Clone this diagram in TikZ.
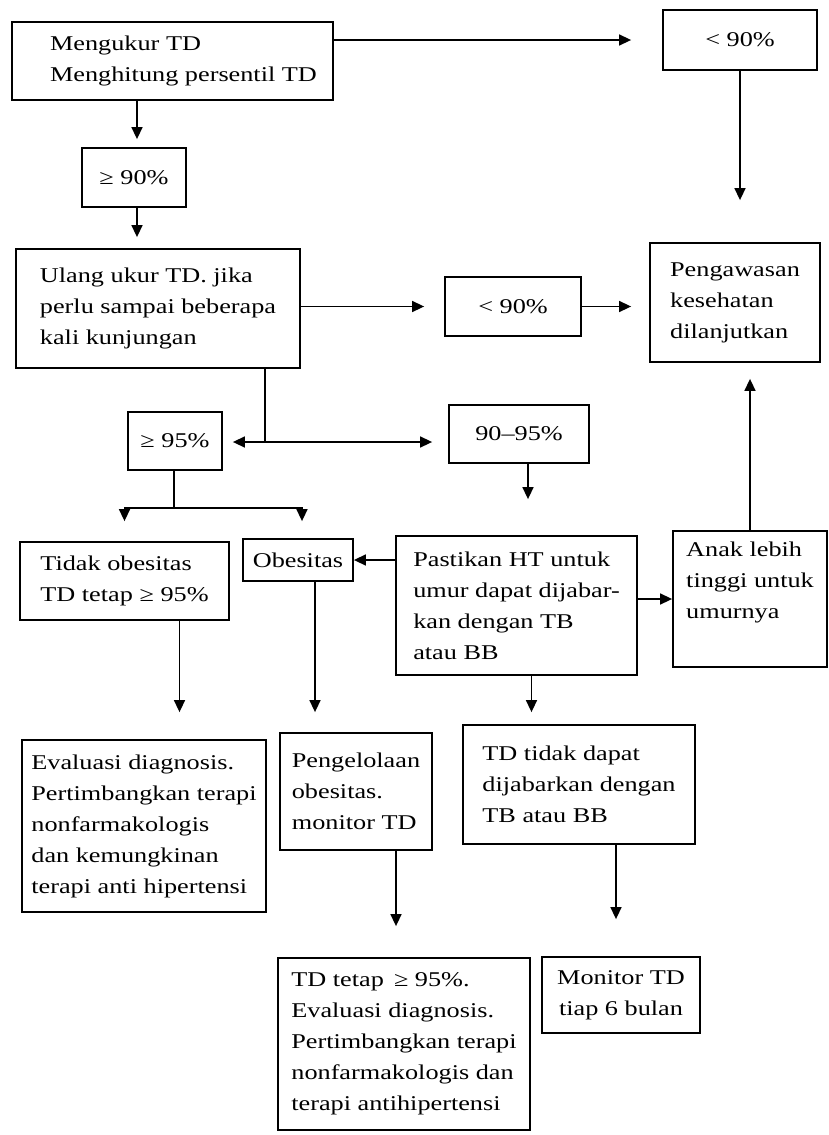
\documentclass[tikz,border=0pt]{standalone}
\usepackage{fontspec}
\setmainfont[FakeStretch=1.25]{Liberation Serif}
\usetikzlibrary{arrows.meta}
\begin{document}
\begin{tikzpicture}[x=1pt,y=-1pt,
  box/.style={draw, line width=1.8pt, inner sep=0pt, align=left,
    font=\fontsize{21}{31}\selectfont},
  arr/.style={line width=1.5pt, -{Triangle[length=12pt,width=11pt]}},
  ln/.style={line width=1.5pt}]
\useasboundingbox (0,0) rectangle (829,1135);
\fill[white] (0,0) rectangle (829,1135);

\node[box, minimum width=321pt, minimum height=78pt] (mengukur) at (172.5,61) {\hspace*{22pt}Mengukur TD\\\hspace*{22pt}Menghitung persentil TD};
\node[box, minimum width=154pt, minimum height=60pt] (top90) at (740,40) {< 90\%};
\node[box, minimum width=104pt, minimum height=59pt] (ge90) at (134,177.5) {≥ 90\%};
\node[box, minimum width=284pt, minimum height=119pt] (ulang) at (158,308.5) {Ulang ukur TD. jika\\perlu sampai beberapa\\kali kunjungan};
\node[box, minimum width=136pt, minimum height=59pt] (mid90) at (513,306.5) {< 90\%};
\node[box, minimum width=170pt, minimum height=119pt] (pengawasan) at (735,302.5) {Pengawasan\\kesehatan\\dilanjutkan};
\node[box, minimum width=94pt, minimum height=58pt] (ge95) at (175,441) {≥ 95\%};
\node[box, minimum width=140pt, minimum height=58pt] (r9095) at (519,434) {90–95\%};
\node[box, minimum width=209pt, minimum height=78pt] (tidak) at (124.5,581) {Tidak obesitas\\TD tetap ≥ 95\%};
\node[box, minimum width=110pt, minimum height=42pt] (obesitas) at (298,560) {Obesitas};
\node[box, minimum width=241pt, minimum height=139pt] (pastikan) at (516.5,605.5) {Pastikan HT untuk\\umur dapat dijabar-\\kan dengan TB\\atau BB};
\node[box, minimum width=154pt, minimum height=136pt] (anak) at (750,599) {Anak lebih\\tinggi untuk\\umurnya\\[6pt]};
\node[box, minimum width=244pt, minimum height=172pt] (evaluasi) at (144,826) {Evaluasi diagnosis.\\Pertimbangkan terapi\\nonfarmakologis\\dan kemungkinan\\terapi anti hipertensi};
\node[box, minimum width=152pt, minimum height=117pt] (pengelolaan) at (356,791.5) {Pengelolaan\\obesitas.\\monitor TD};
\node[box, minimum width=232pt, minimum height=119pt] (tdtidak) at (579,784.5) {TD tidak dapat\\dijabarkan dengan\\TB atau BB};
\node[box, minimum width=252pt, minimum height=172pt] (tdtetap) at (404,1044) {TD tetap \,≥ 95\%.\\Evaluasi diagnosis.\\Pertimbangkan terapi\\nonfarmakologis dan\\terapi antihipertensi};
\node[box, align=center, minimum width=158pt, minimum height=76pt] (monitor) at (621,995) {Monitor TD\\tiap 6 bulan};

% connectors
\draw[arr, shorten >=31pt] (mengukur.east |- top90.west) -- (top90.west);
\draw[arr, shorten >=42pt] (top90.south) -- (top90.south |- pengawasan.north);
\coordinate (c1) at ([xshift=3pt]ge90.north);
\draw[arr, shorten >=8pt] (c1 |- mengukur.south) -- (c1);
\coordinate (c2) at ([xshift=3pt]ge90.south);
\draw[arr, shorten >=11pt] (c2) -- (c2 |- ulang.north);
\draw[arr, shorten >=20pt] (ulang.east |- mid90.west) -- (mid90.west);
\draw[arr, shorten >=18pt] (mid90.east) -- (mid90.east -| pengawasan.west);

\coordinate (j1) at (265,442);
\draw[ln] (j1 |- ulang.south) -- (j1);
\draw[arr, shorten >=10pt] (j1) -- (j1 -| ge95.east);
\draw[arr, shorten >=16pt] (j1) -- (j1 -| r9095.west);

\coordinate (j2) at (174,508);
\draw[ln] (j2 |- ge95.south) -- (j2);
\draw[arr, shorten >=20pt] (j2) -| (tidak.north);
\coordinate (c3) at ([xshift=4pt]obesitas.north);
\draw[arr, shorten >=17pt] (j2) -| (c3);

\coordinate (c4) at ([xshift=9pt]r9095.south);
\draw[arr, shorten >=36pt] (c4) -- (c4 |- pastikan.north);
\draw[arr] (pastikan.west |- obesitas.east) -- (obesitas.east);
\draw[arr] (pastikan.east |- anak.west) -- (anak.west);
\draw[arr, shorten >=16pt] (anak.north) -- (anak.north |- pengawasan.south);
\coordinate (c5) at ([xshift=15pt]pastikan.south);
\draw[arr, shorten >=12pt] (c5) -- (c5 |- tdtidak.north);

\coordinate (c6) at ([xshift=55pt]tidak.south);
\draw[arr, shorten >=27pt] (c6) -- (c6 |- evaluasi.north);
\coordinate (c7) at ([xshift=17pt]obesitas.south);
\draw[arr, shorten >=20pt] (c7) -- (c7 |- pengelolaan.north);
\coordinate (c8) at ([xshift=40pt]pengelolaan.south);
\draw[arr, shorten >=31pt] (c8) -- (c8 |- tdtetap.north);
\coordinate (c9) at ([xshift=37pt]tdtidak.south);
\draw[arr, shorten >=37pt] (c9) -- (c9 |- monitor.north);
\end{tikzpicture}
\end{document}
